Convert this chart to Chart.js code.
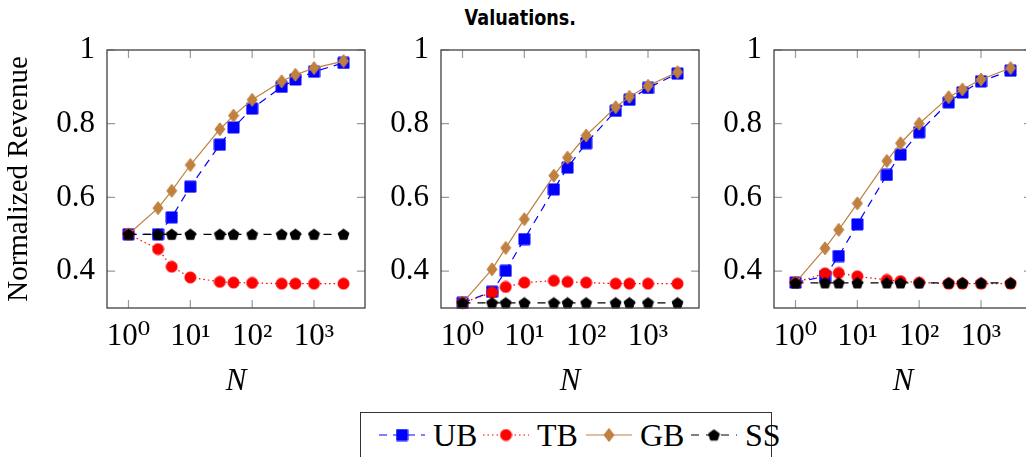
<!DOCTYPE html>
<html>
<head>
<meta charset="utf-8">
<title>Valuations</title>
<script src="https://cdn.jsdelivr.net/npm/chart.js@4"></script>
<style>
  html, body { margin: 0; padding: 0; width: 1026px; height: 457px; overflow: hidden; background: #fff; }
  canvas { position: absolute; top: 0; }
  #title { position: absolute; left: 0; top: 6px; width: 1040px; text-align: center;
           font: bold 21px "DejaVu Sans", sans-serif; color: #000; }
  #title span { display: inline-block; transform: scaleX(0.84); }
  #legend { position: absolute; left: 360px; top: 412px; width: 412px; height: 60px;
            border: 1.3px solid #333; box-sizing: border-box; }
  .item { position: absolute; top: 3px; height: 38px; display: flex; align-items: center;
          font: 32px "Liberation Serif", serif; color: #000; }
  .item canvas { position: static; margin-right: 8px; }
</style>
</head>
<body>
<div id="title"><span>Valuations.</span></div>
<canvas id="panel1" width="390" height="400" style="left:0px"></canvas>
<canvas id="panel2" width="345" height="400" style="left:380px"></canvas>
<canvas id="panel3" width="345" height="400" style="left:714px"></canvas>
<div id="legend"></div>

<script>
// x values (N) and ticks
const nValues = [1, 3, 5, 10, 30, 50, 100, 300, 500, 1000, 3000];
const xTickValues = [1, 10, 100, 1000];
const xTickLabels = ["10⁰", "10¹", "10²", "10³"];
const yTickValues = [0.4, 0.6, 0.8, 1];
const yTickLabels = ["0.4", "0.6", "0.8", "1"];
const seriesNames = ["UB", "TB", "GB", "SS"];

// panel 1
const ub1 = [0.5, 0.5, 0.546, 0.629, 0.743, 0.79, 0.841, 0.9, 0.92, 0.941, 0.965];
const tb1 = [0.5, 0.46, 0.412, 0.383, 0.371, 0.369, 0.368, 0.366, 0.366, 0.366, 0.366];
const gb1 = [0.5, 0.571, 0.618, 0.688, 0.785, 0.822, 0.865, 0.915, 0.933, 0.951, 0.97];
const ss1 = [0.5, 0.5, 0.5, 0.5, 0.5, 0.5, 0.5, 0.5, 0.5, 0.5, 0.5];

// panel 2
const ub2 = [0.314, 0.344, 0.401, 0.487, 0.622, 0.681, 0.747, 0.835, 0.865, 0.897, 0.936];
const tb2 = [0.314, 0.342, 0.357, 0.369, 0.374, 0.371, 0.369, 0.366, 0.366, 0.366, 0.366];
const gb2 = [0.314, 0.405, 0.463, 0.541, 0.659, 0.708, 0.768, 0.845, 0.873, 0.903, 0.94];
const ss2 = [0.314, 0.314, 0.314, 0.314, 0.314, 0.314, 0.314, 0.314, 0.314, 0.314, 0.314];

// panel 3
const ub3 = [0.369, 0.386, 0.441, 0.527, 0.661, 0.716, 0.777, 0.858, 0.885, 0.915, 0.944];
const tb3 = [0.369, 0.394, 0.395, 0.386, 0.376, 0.373, 0.369, 0.366, 0.366, 0.366, 0.366];
const gb3 = [0.369, 0.462, 0.512, 0.584, 0.699, 0.747, 0.8, 0.872, 0.893, 0.92, 0.951];
const ss3 = [0.368, 0.368, 0.368, 0.368, 0.368, 0.368, 0.368, 0.368, 0.368, 0.368, 0.368];

const SERIF = '"Liberation Serif", "DejaVu Serif", serif';
const colors = ["#0000ff", "#ff0000", "#bf8040", "#000000"];
const dashes = [[8, 6], [1.5, 3], [], [8, 7]];

// marker images (square, circle, diamond, pentagon)
function marker(kind, color) {
  const c = document.createElement("canvas");
  const ctx = c.getContext("2d");
  if (kind === "diamond") {
    c.width = 12; c.height = 15;
  } else {
    c.width = 13; c.height = 13;
  }
  ctx.fillStyle = color;
  ctx.strokeStyle = color;
  ctx.lineWidth = 1;
  ctx.beginPath();
  if (kind === "square") {
    ctx.rect(1, 1, 11, 11);
  } else if (kind === "circle") {
    ctx.arc(6.5, 6.5, 5.5, 0, Math.PI * 2);
  } else if (kind === "diamond") {
    ctx.moveTo(6, 1); ctx.lineTo(11, 7.5); ctx.lineTo(6, 14); ctx.lineTo(1, 7.5);
  } else {
    for (let i = 0; i < 5; i++) {
      const a = -Math.PI / 2 + i * 2 * Math.PI / 5;
      const px = 6.5 + 5.7 * Math.cos(a), py = 7 + 5.7 * Math.sin(a);
      if (i === 0) ctx.moveTo(px, py); else ctx.lineTo(px, py);
    }
  }
  ctx.closePath();
  ctx.fill();
  ctx.stroke();
  return c;
}
const markers = [
  marker("square", colors[0]),
  marker("circle", colors[1]),
  marker("diamond", colors[2]),
  marker("pentagon", colors[3]),
];

// box around the plot + inward tick marks
const frame = {
  id: "frame",
  beforeDatasetsDraw(chart) {
    const { ctx, chartArea: a, scales: { x, y } } = chart;
    ctx.save();
    ctx.strokeStyle = "#9a9a9a";
    ctx.lineWidth = 1.2;
    ctx.beginPath();
    x.ticks.forEach((t) => {
      const px = x.getPixelForValue(t.value);
      ctx.moveTo(px, a.top); ctx.lineTo(px, a.top + 8);
      ctx.moveTo(px, a.bottom); ctx.lineTo(px, a.bottom - 8);
    });
    y.ticks.forEach((t) => {
      const py = y.getPixelForValue(t.value);
      ctx.moveTo(a.left, py); ctx.lineTo(a.left + 8, py);
      ctx.moveTo(a.right, py); ctx.lineTo(a.right - 8, py);
    });
    ctx.stroke();
    ctx.restore();
  },
  afterDraw(chart) {
    const { ctx, chartArea: a } = chart;
    ctx.save();
    ctx.strokeStyle = "#404040";
    ctx.lineWidth = 1.3;
    ctx.strokeRect(a.left, a.top, a.right - a.left, a.bottom - a.top);
    ctx.restore();
  },
};

function dataset(i, values) {
  return {
    label: seriesNames[i],
    data: nValues.map((n, k) => ({ x: n, y: values[k] })),
    borderColor: colors[i],
    borderWidth: 1.2,
    borderDash: dashes[i],
    pointStyle: markers[i],
    pointRadius: 6,
    tension: 0,
    fill: false,
    clip: false,
    order: 4 - i,
  };
}

function makePanel(id, series, yAxisWidth, rightPad, showYTitle) {
  new Chart(document.getElementById(id), {
    type: "line",
    data: { datasets: series.map((s, i) => dataset(i, s)) },
    options: {
      responsive: false,
      animation: false,
      layout: { padding: { top: 50, right: rightPad, left: 0, bottom: 0 } },
      plugins: { legend: { display: false }, tooltip: { enabled: false } },
      scales: {
        x: {
          type: "logarithmic",
          min: 0.449,
          max: 6680,
          grid: { display: false, drawTicks: false },
          border: { display: false },
          afterBuildTicks: (s) => { s.ticks = xTickValues.map((v) => ({ value: v })); },
          afterFit: (s) => { s.height = 92; },
          ticks: {
            autoSkip: false,
            maxRotation: 0,
            padding: 10,
            color: "#000",
            font: { family: SERIF, size: 31 },
            callback: (v, idx) => xTickLabels[idx],
          },
          title: {
            display: true,
            text: "N",
            color: "#000",
            padding: { top: -10, bottom: 0 },
            font: { family: SERIF, size: 31, style: "italic" },
          },
        },
        y: {
          min: 0.3,
          max: 1,
          grid: { display: false, drawTicks: false },
          border: { display: false },
          afterBuildTicks: (s) => { s.ticks = yTickValues.map((v) => ({ value: v })); },
          afterFit: (s) => { s.width = yAxisWidth; },
          ticks: {
            padding: 12,
            color: "#000",
            font: { family: SERIF, size: 31 },
            callback: (v, idx) => yTickLabels[idx],
          },
          title: {
            display: showYTitle,
            text: "Normalized Revenue",
            color: "#000",
            padding: { top: 2, bottom: 0 },
            font: { family: SERIF, size: 29 },
          },
        },
      },
    },
    plugins: [frame],
  });
}

makePanel("panel1", [ub1, tb1, gb1, ss1], 107, 25, true);
makePanel("panel2", [ub2, tb2, gb2, ss2], 61, 26, false);
makePanel("panel3", [ub3, tb3, gb3, ss3], 60, 27, false);

// legend: line sample + marker, then name
const legend = document.getElementById("legend");
const legendLeft = [18, 122, 225, 330];
seriesNames.forEach((name, i) => {
  const item = document.createElement("div");
  item.className = "item";
  item.style.left = legendLeft[i] + "px";
  const c = document.createElement("canvas");
  c.width = 46; c.height = 20;
  const ctx = c.getContext("2d");
  ctx.strokeStyle = colors[i];
  ctx.lineWidth = 1.2;
  ctx.setLineDash(dashes[i]);
  ctx.beginPath();
  ctx.moveTo(0, 10); ctx.lineTo(46, 10);
  ctx.stroke();
  const m = markers[i];
  ctx.drawImage(m, 23 - m.width / 2, 10 - m.height / 2);
  item.appendChild(c);
  const label = document.createElement("span");
  label.textContent = name;
  item.appendChild(label);
  legend.appendChild(item);
});
</script>
</body>
</html>
